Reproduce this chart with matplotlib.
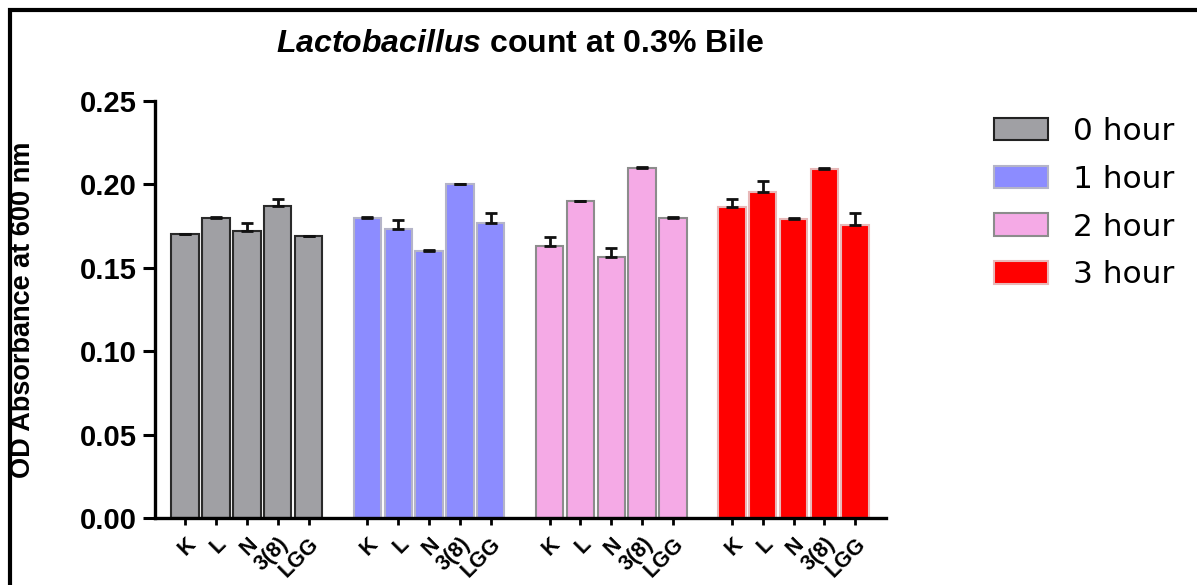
import matplotlib
matplotlib.use('Agg')
import matplotlib.pyplot as plt
from matplotlib.patches import Patch, Rectangle
import numpy as np

plt.rcParams['font.family'] = ['Liberation Sans', 'DejaVu Sans']
plt.rcParams['mathtext.fontset'] = 'custom'
plt.rcParams['mathtext.it'] = 'Liberation Sans:italic:bold'
plt.rcParams['mathtext.rm'] = 'Liberation Sans:bold'
plt.rcParams['mathtext.bf'] = 'Liberation Sans:bold'

# ---- data ----
strains = ['K', 'L', 'N', '3(8)', 'LGG']
hours = ['0 hour', '1 hour', '2 hour', '3 hour']
means_0h = [0.170, 0.180, 0.172, 0.187, 0.169]
err_0h = [0.0005, 0.0005, 0.005, 0.004, 0.0]
means_1h = [0.180, 0.1735, 0.160, 0.200, 0.177]
err_1h = [0.0005, 0.005, 0.0005, 0.0005, 0.006]
means_2h = [0.163, 0.190, 0.1565, 0.210, 0.180]
err_2h = [0.0055, 0.0003, 0.0055, 0.0005, 0.0006]
means_3h = [0.1865, 0.1955, 0.1795, 0.2095, 0.1757]
err_3h = [0.005, 0.0065, 0.0003, 0.0005, 0.007]

means = [means_0h, means_1h, means_2h, means_3h]
errs = [err_0h, err_1h, err_2h, err_3h]
fills = ['#a0a0a4', '#8c8cff', '#f5aae6', '#ff0000']
edges = ['#2a2a2a', '#b4b4c8', '#8c8c8c', '#e8b8b8']

W, H = 1197, 585
fig = plt.figure(figsize=(W / 100, H / 100), dpi=100)
ax = fig.add_axes([155 / W, 1 - 518 / H, (886 - 155) / W, (518 - 101) / H])

group_step = 5.91
positions = []
labels = []
for g in range(4):
    x = g * group_step + np.arange(len(strains))
    positions.extend(x)
    labels.extend(strains)
    ax.bar(x, means[g], width=0.89, color=fills[g], edgecolor=edges[g],
           linewidth=1.5, zorder=2)
    ax.errorbar(x, means[g], yerr=[np.zeros(len(strains)), errs[g]],
                fmt='none', ecolor='#111111', elinewidth=2, capsize=4,
                capthick=2, zorder=3)

ax.set_xlim(-0.98, 3 * group_step + 4 + 1.0)
ax.set_ylim(0, 0.25)
ax.set_yticks([0.0, 0.05, 0.10, 0.15, 0.20, 0.25])
ax.set_yticklabels(['0.00', '0.05', '0.10', '0.15', '0.20', '0.25'],
                   fontsize=21, fontweight='bold')
ax.set_xticks(positions)
ax.set_xticklabels(labels, rotation=45, ha='right', va='top',
                   rotation_mode='anchor', fontsize=15.5, fontweight='bold')
for s in ['top', 'right']:
    ax.spines[s].set_visible(False)
for s in ['left', 'bottom']:
    ax.spines[s].set_linewidth(2.4)
ax.tick_params(axis='y', length=9, width=2.2, pad=4)
ax.tick_params(axis='x', length=5, width=2.0, pad=6)

ax.set_ylabel('OD Absorbance at 600 nm', fontsize=19.5, fontweight='bold')
ax.yaxis.set_label_coords((36 - 155) / 731, 0.5)

fig.text((155 + 886) / 2 / W, 1 - 44 / H,
         r'$\mathit{Lactobacillus}$ count at 0.3% Bile',
         ha='center', va='center', fontsize=23, fontweight='bold')

handles = [Patch(facecolor=fills[i], edgecolor=('#222222' if i == 0 else edges[i]),
                 linewidth=1.5, label=hours[i]) for i in range(4)]
fig.legend(handles=handles, loc='upper left',
           bbox_to_anchor=(994 / W, 1 - 117 / H), frameon=False,
           prop={'family': 'DejaVu Sans', 'size': 22.5},
           handlelength=1.72, handleheight=0.73,
           handletextpad=0.8, labelspacing=0.6, borderpad=0, borderaxespad=0)

fig.add_artist(Rectangle((10 / W, -0.1), 1.2, 1.1 - 10 / H,
                         transform=fig.transFigure, fill=False,
                         edgecolor='black', linewidth=3, clip_on=False))

fig.savefig('out.png', dpi=100)
